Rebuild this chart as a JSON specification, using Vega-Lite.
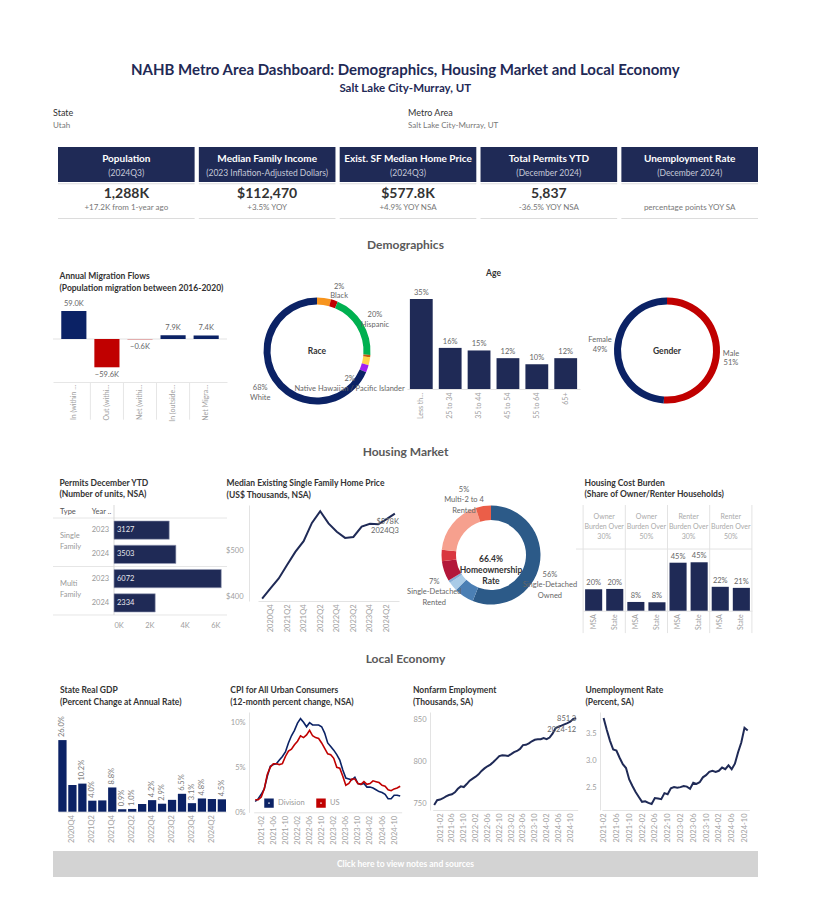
{
"$schema": "https://vega.github.io/schema/vega-lite/v6.json",
"background": "white",
"padding": {"left": 52, "top": 62, "right": 5, "bottom": 5},
"title": {"text": "NAHB Metro Area Dashboard: Demographics, Housing Market and Local Economy", "subtitle": "Salt Lake City-Murray, UT", "anchor": "middle", "fontSize": 15, "fontWeight": "bold", "color": "#1f2a56", "subtitleColor": "#1f2a56", "subtitleFontSize": 11.5, "subtitleFontWeight": "bold", "subtitlePadding": 5, "offset": 6},
"spacing": 6,
"resolve": {"scale": {"color": "independent"}},
"vconcat": [
{
 "width": 705, "height": 41,
 "data": {"values": [{"label": "State", "value": "Utah"}, {"label": "Metro Area", "value": "Salt Lake City-Murray, UT"}]},
 "encoding": {"x": {"field": "label", "type": "nominal", "sort": null, "scale": {"domain": ["State", "Metro Area"], "range": [-177.5, 532.5], "paddingInner": 0, "paddingOuter": 0}, "axis": null}},
 "layer": [
  {"mark": {"type": "text", "align": "left", "dy": -7.5, "fontSize": 9, "color": "#333333"}, "encoding": {"text": {"field": "label"}}},
  {"mark": {"type": "text", "align": "left", "dy": 5.5, "fontSize": 8, "color": "#777777"}, "encoding": {"text": {"field": "value"}}}
 ]
},
{
 "width": 705, "height": 72,
 "data": {"values": [
  {"k": "Population", "sub": "(2024Q3)", "val": "1,288K", "chg": "+17.2K from 1-year ago"},
  {"k": "Median Family Income", "sub": "(2023 Inflation-Adjusted Dollars)", "val": "$112,470", "chg": "+3.5% YOY"},
  {"k": "Exist. SF Median Home Price", "sub": "(2024Q3)", "val": "$577.8K", "chg": "+4.9% YOY NSA"},
  {"k": "Total Permits YTD", "sub": "(December 2024)", "val": "5,837", "chg": "-36.5% YOY NSA"},
  {"k": "Unemployment Rate", "sub": "(December 2024)", "val": "", "chg": "percentage points YOY SA"}
 ]},
 "encoding": {"x": {"field": "k", "type": "nominal", "sort": null, "scale": {"range": [5, 705], "paddingInner": 0.03, "paddingOuter": 0}, "axis": null}},
 "layer": [
  {"mark": {"type": "rect", "color": "#1f2a56"}, "encoding": {"y": {"datum": 0, "type": "quantitative", "scale": {"domain": [0, 72], "range": [0, 72], "nice": false}, "axis": null}, "y2": {"datum": 35}}},
  {"mark": {"type": "rect", "color": "#dcdcdc"}, "encoding": {"y": {"datum": 36.3, "type": "quantitative"}, "y2": {"datum": 37.3}}},
  {"mark": {"type": "rect", "color": "#dcdcdc"}, "encoding": {"y": {"datum": 71, "type": "quantitative"}, "y2": {"datum": 72}}},
  {"mark": {"type": "text", "color": "white", "fontSize": 10, "fontWeight": "bold"}, "encoding": {"y": {"datum": 11.5, "type": "quantitative"}, "text": {"field": "k"}}},
  {"mark": {"type": "text", "color": "#c5c8d6", "fontSize": 8.5}, "encoding": {"y": {"datum": 26, "type": "quantitative"}, "text": {"field": "sub"}}},
  {"mark": {"type": "text", "color": "#333333", "fontSize": 14, "fontWeight": "bold"}, "encoding": {"y": {"datum": 47, "type": "quantitative"}, "text": {"field": "val"}}},
  {"mark": {"type": "text", "color": "#777777", "fontSize": 8}, "encoding": {"y": {"datum": 61, "type": "quantitative"}, "text": {"field": "chg"}}}
 ]
},
{"width": 705, "height": 37, "data": {"values": [{"t": "Demographics"}]}, "mark": {"type": "text", "fontSize": 12, "fontWeight": "bold", "color": "#595959", "dy": 1.5}, "encoding": {"text": {"field": "t"}}},
{
 "hconcat": [
  {
   "width": 174, "height": 86,
   "title": {"text": ["Annual Migration Flows", "(Population migration between 2016-2020)"], "dx": 7, "offset": 4},
   "data": {"values": [{"flow": "In (within US)", "v": 59.0}, {"flow": "Out (within US)", "v": -59.6}, {"flow": "Net (within US)", "v": -0.6}, {"flow": "In (outside US)", "v": 7.9}, {"flow": "Net Migration", "v": 7.4}]},
   "layer": [
    {"transform": [{"filter": "datum.flow == 'Net Migration'"}], "mark": {"type": "rule", "color": "#e3e3e3"}, "encoding": {"y": {"datum": 0, "type": "quantitative", "scale": {"domain": [-90.6, 90.6], "nice": false}, "axis": null}}},
    {"transform": [{"filter": "datum.v >= 0"}], "mark": {"type": "bar", "color": "#0b2265"}, "encoding": {
      "x": {"field": "flow", "type": "nominal", "scale": {"domain": ["In (within US)", "Out (within US)", "Net (within US)", "In (outside US)", "Net Migration"], "paddingInner": 0.24, "paddingOuter": 0.25}, "axis": {"title": null, "labelAngle": -90, "labelAlign": "right", "labelBaseline": "middle", "ticks": false, "labelPadding": 2, "labelLimit": 38, "labelFontSize": 7, "domainColor": "#e6e6e6"}},
      "y": {"field": "v", "type": "quantitative", "axis": null}}},
    {"transform": [{"filter": "datum.v < 0"}], "mark": {"type": "bar", "color": "#c00000"}, "encoding": {"x": {"field": "flow", "type": "nominal"}, "y": {"field": "v", "type": "quantitative"}}},
    {"transform": [{"filter": "datum.flow != 'In (within US)'"}], "mark": {"type": "rule", "color": "#e6e6e6", "xOffset": -16.54}, "encoding": {"x": {"field": "flow", "type": "nominal"}, "y": {"datum": -90.6, "type": "quantitative"}, "y2": {"datum": -170}}},
    {"transform": [{"filter": "datum.v >= 0"}, {"calculate": "format(datum.v, '.1f') + 'K'", "as": "lab"}], "mark": {"type": "text", "baseline": "bottom", "dy": -3, "fontSize": 7.5, "color": "#666666"}, "encoding": {"x": {"field": "flow", "type": "nominal"}, "y": {"field": "v", "type": "quantitative"}, "text": {"field": "lab"}}},
    {"transform": [{"filter": "datum.v < 0"}, {"calculate": "format(datum.v, '.1f') + 'K'", "as": "lab"}], "mark": {"type": "text", "baseline": "top", "dy": 4, "fontSize": 7.5, "color": "#666666"}, "encoding": {"x": {"field": "flow", "type": "nominal"}, "y": {"field": "v", "type": "quantitative"}, "text": {"field": "lab"}}}
   ]
  },
  {
   "width": 144, "height": 110,
   "data": {"values": [
    {"cat": "Asian", "pct": 4.2, "ord": 1, "label": ""},
    {"cat": "Black", "pct": 2.1, "ord": 2, "label": "2%\nBlack"},
    {"cat": "Hispanic", "pct": 19.7, "ord": 3, "label": "20%\nHispanic"},
    {"cat": "American Indian", "pct": 0.7, "ord": 4, "label": ""},
    {"cat": "Two or More", "pct": 2.4, "ord": 5, "label": ""},
    {"cat": "Native Hawaiian / Pacific Islander", "pct": 2.2, "ord": 6, "label": "2%\nNative Hawaiian / Pacific Islander"},
    {"cat": "White", "pct": 68.1, "ord": 7, "label": "68%\nWhite"}
   ]},
   "layer": [
    {"mark": {"type": "arc", "outerRadius": 53.5, "innerRadius": 46.5}, "encoding": {"theta": {"field": "pct", "type": "quantitative", "stack": true}, "order": {"field": "ord", "type": "quantitative"}, "color": {"field": "cat", "type": "nominal", "scale": {"domain": ["Asian", "Black", "Hispanic", "American Indian", "Two or More", "Native Hawaiian / Pacific Islander", "White"], "range": ["#f7941d", "#c00000", "#00b050", "#c55a11", "#ffd54a", "#a020f0", "#0b2265"]}, "legend": null}}},
    {"transform": [{"calculate": "datum.ord == 6 ? '' : datum.label", "as": "t"}], "mark": {"type": "text", "radius": 68, "fontSize": 7.5, "color": "#666666", "lineBreak": "\n"}, "encoding": {"theta": {"field": "pct", "type": "quantitative", "stack": true}, "order": {"field": "ord", "type": "quantitative"}, "detail": {"field": "cat", "type": "nominal"}, "text": {"field": "t"}}},
    {"transform": [{"calculate": "datum.ord == 6 ? datum.label : ''", "as": "t"}], "mark": {"type": "text", "radius": 43, "dx": -8, "dy": 14, "fontSize": 7.5, "color": "#666666", "lineBreak": "\n"}, "encoding": {"theta": {"field": "pct", "type": "quantitative", "stack": true}, "order": {"field": "ord", "type": "quantitative"}, "detail": {"field": "cat", "type": "nominal"}, "text": {"field": "t"}}},
    {"data": {"values": [{"t": "Race"}]}, "mark": {"type": "text", "fontSize": 8.5, "fontWeight": "bold", "color": "#333333"}, "encoding": {"text": {"field": "t"}}}
   ]
  },
  {
   "width": 173, "height": 93,
   "title": {"text": "Age", "anchor": "middle", "offset": 12},
   "data": {"values": [{"age": "Less than 25", "p": 35}, {"age": "25 to 34", "p": 16}, {"age": "35 to 44", "p": 15}, {"age": "45 to 54", "p": 12}, {"age": "55 to 64", "p": 9.6}, {"age": "65+", "p": 12}]},
   "layer": [
    {"mark": {"type": "bar", "color": "#1f2a56"}, "encoding": {
      "x": {"field": "age", "type": "nominal", "sort": null, "scale": {"paddingInner": 0.21, "paddingOuter": 0.1}, "axis": {"title": null, "labelAngle": -90, "labelAlign": "right", "labelBaseline": "middle", "ticks": false, "labelPadding": 3, "labelLimit": 30, "labelFontSize": 7}},
      "y": {"field": "p", "type": "quantitative", "scale": {"domain": [0, 36.2], "nice": false}, "axis": null}}},
    {"transform": [{"calculate": "format(datum.p, '.0f') + '%'", "as": "lab"}], "mark": {"type": "text", "baseline": "bottom", "dy": -2, "fontSize": 7.5, "color": "#666666"}, "encoding": {"x": {"field": "age", "type": "nominal", "sort": null}, "y": {"field": "p", "type": "quantitative"}, "text": {"field": "lab"}}}
   ]
  },
  {
   "width": 138, "height": 109,
   "data": {"values": [{"g": "Male", "p": 51, "ord": 1, "label": "Male\n51%"}, {"g": "Female", "p": 49, "ord": 2, "label": "Female\n49%"}]},
   "layer": [
    {"mark": {"type": "arc", "outerRadius": 53, "innerRadius": 46}, "encoding": {"theta": {"field": "p", "type": "quantitative", "stack": true}, "order": {"field": "ord", "type": "quantitative"}, "color": {"field": "g", "type": "nominal", "scale": {"domain": ["Male", "Female"], "range": ["#c00000", "#0b2265"]}, "legend": null}}},
    {"transform": [{"calculate": "datum.ord == 1 ? datum.label : ''", "as": "t"}], "mark": {"type": "text", "radius": 67, "dy": 1, "dx": -3, "fontSize": 7.5, "color": "#666666", "lineBreak": "\n"}, "encoding": {"theta": {"field": "p", "type": "quantitative", "stack": true}, "order": {"field": "ord", "type": "quantitative"}, "detail": {"field": "g", "type": "nominal"}, "text": {"field": "t"}}},
    {"transform": [{"calculate": "datum.ord == 2 ? datum.label : ''", "as": "t"}], "mark": {"type": "text", "radius": 67, "dy": -8, "fontSize": 7.5, "color": "#666666", "lineBreak": "\n"}, "encoding": {"theta": {"field": "p", "type": "quantitative", "stack": true}, "order": {"field": "ord", "type": "quantitative"}, "detail": {"field": "g", "type": "nominal"}, "text": {"field": "t"}}},
    {"data": {"values": [{"t": "Gender"}]}, "mark": {"type": "text", "fontSize": 8.5, "fontWeight": "bold", "color": "#333333"}, "encoding": {"text": {"field": "t"}}}
   ]
  }
 ],
 "spacing": 18, "bounds": "flush",
 "resolve": {"scale": {"color": "independent"}}
},
{"width": 705, "height": 44, "data": {"values": [{"t": "Housing Market"}]}, "mark": {"type": "text", "fontSize": 12, "fontWeight": "bold", "color": "#595959", "dy": 2}, "encoding": {"text": {"field": "t"}}},
{
 "hconcat": [
  {
   "width": 174, "height": 110,
   "title": {"text": ["Permits December YTD", "(Number of units, NSA)"], "dx": 7, "offset": 6},
   "data": {"values": [
    {"type": "Single Family", "yr": "2023", "v": 3127, "key": "SF2023"},
    {"type": "Single Family", "yr": "2024", "v": 3503, "key": "SF2024"},
    {"type": "Multi Family", "yr": "2023", "v": 6072, "key": "MF2023"},
    {"type": "Multi Family", "yr": "2024", "v": 2334, "key": "MF2024"}
   ]},
   "layer": [
    {"transform": [{"filter": "datum.yr == '2023'"}], "mark": {"type": "rule", "color": "#e6e6e6", "yOffset": -12.1}, "encoding": {"y": {"field": "key", "type": "nominal", "sort": null, "scale": {"domain": ["SF2023", "SF2024", "MF2023", "MF2024"], "range": [13, 110], "paddingInner": 0.246, "paddingOuter": 0.123}, "axis": null}}},
    {"transform": [{"filter": "datum.key == 'MF2024'"}], "mark": {"type": "rule", "color": "#e6e6e6", "yOffset": 12.1}, "encoding": {"y": {"field": "key", "type": "nominal", "sort": null, "axis": null}}},
    {"transform": [{"filter": "datum.key == 'SF2023'"}], "mark": {"type": "rule", "color": "#d9d9d9"}, "encoding": {"x": {"datum": 0, "type": "quantitative"}}},
    {"mark": {"type": "bar", "color": "#1f2a56", "stroke": "#9aa0b8", "strokeWidth": 0.6}, "encoding": {
      "y": {"field": "key", "type": "nominal", "sort": null, "axis": null},
      "x": {"field": "v", "type": "quantitative", "scale": {"domain": [0, 6000], "range": [61, 167], "nice": false}, "axis": {"title": null, "values": [0, 2000, 4000, 6000], "labelExpr": "datum.value / 1000 + 'K'", "domain": false, "ticks": false, "labelPadding": 6}}}},
    {"mark": {"type": "text", "align": "left", "dx": 3, "color": "#e8e8ee", "fontSize": 7.5}, "encoding": {"y": {"field": "key", "type": "nominal", "sort": null, "axis": null}, "x": {"datum": 0, "type": "quantitative"}, "text": {"field": "v", "type": "quantitative", "format": "d"}}},
    {"mark": {"type": "text", "align": "left", "color": "#999999", "fontSize": 7.5}, "encoding": {"y": {"field": "key", "type": "nominal", "sort": null, "axis": null}, "x": {"datum": -1262, "type": "quantitative"}, "text": {"field": "yr"}}},
    {"transform": [{"filter": "datum.yr == '2023'"}], "mark": {"type": "text", "align": "left", "color": "#999999", "fontSize": 7.5, "lineBreak": " ", "lineHeight": 11, "dy": 5.5}, "encoding": {"y": {"field": "key", "type": "nominal", "sort": null, "axis": null}, "x": {"datum": -3057, "type": "quantitative"}, "text": {"field": "type"}}},
    {"transform": [{"filter": "datum.key == 'SF2023'"}], "mark": {"type": "text", "align": "left", "dy": -18, "color": "#555555", "fontSize": 7.5}, "encoding": {"y": {"field": "key", "type": "nominal", "sort": null, "axis": null}, "x": {"datum": -3057, "type": "quantitative"}, "text": {"value": "Type"}}},
    {"transform": [{"filter": "datum.key == 'SF2023'"}], "mark": {"type": "text", "align": "left", "dy": -18, "color": "#555555", "fontSize": 7.5}, "encoding": {"y": {"field": "key", "type": "nominal", "sort": null, "axis": null}, "x": {"datum": -1262, "type": "quantitative"}, "text": {"value": "Year .."}}}
   ]
  },
  {
   "width": 157, "height": 96,
   "title": {"text": ["Median Existing Single Family Home Price", "(US$ Thousands, NSA)"], "offset": 6, "dx": 1},
   "data": {"values": [
    {"q": "2020Q3", "v": 396}, {"q": "2020Q4", "v": 418}, {"q": "2021Q1", "v": 439}, {"q": "2021Q2", "v": 468},
    {"q": "2021Q3", "v": 496}, {"q": "2021Q4", "v": 519}, {"q": "2022Q1", "v": 558}, {"q": "2022Q2", "v": 583},
    {"q": "2022Q3", "v": 557}, {"q": "2022Q4", "v": 539}, {"q": "2023Q1", "v": 526}, {"q": "2023Q2", "v": 528},
    {"q": "2023Q3", "v": 550}, {"q": "2023Q4", "v": 556}, {"q": "2024Q1", "v": 555}, {"q": "2024Q2", "v": 566},
    {"q": "2024Q3", "v": 577.8}
   ]},
   "layer": [
    {"mark": {"type": "line", "color": "#1f2a56", "strokeWidth": 2}, "encoding": {
      "x": {"field": "q", "type": "ordinal", "sort": null, "scale": {"type": "point", "range": [9, 150]}, "axis": {"title": null, "labelAngle": -90, "labelAlign": "right", "labelBaseline": "middle", "values": ["2020Q4", "2021Q2", "2021Q4", "2022Q2", "2022Q4", "2023Q2", "2023Q4", "2024Q2"], "ticks": false, "labelPadding": 3}},
      "y": {"field": "v", "type": "quantitative", "scale": {"domain": [390.8, 596.4], "nice": false, "zero": false}, "axis": {"title": null, "values": [400, 500], "labelExpr": "'$' + datum.value", "ticks": false, "labelPadding": 6}}}},
    {"transform": [{"filter": "datum.q == '2024Q3'"}, {"calculate": "'$' + format(datum.v, '.0f') + 'K\\n' + datum.q", "as": "lab"}], "mark": {"type": "text", "align": "right", "baseline": "top", "dx": 4, "dy": 4, "fontSize": 7.5, "color": "#666666", "lineBreak": "\n"}, "encoding": {"x": {"field": "q", "type": "ordinal", "sort": null}, "y": {"field": "v", "type": "quantitative"}, "text": {"field": "lab"}}}
   ]
  },
  {
   "width": 126, "height": 100,
   "data": {"values": [
    {"cat": "Single-Detached Owned", "p": 56.0, "ord": 1, "label": "56%\nSingle-Detached\nOwned"},
    {"cat": "Single-Attached Owned", "p": 6.5, "ord": 2, "label": ""},
    {"cat": "Multi-2 to 4 Owned", "p": 3.0, "ord": 3, "label": ""},
    {"cat": "Multi-5+ Owned", "p": 0.9, "ord": 4, "label": ""},
    {"cat": "Single-Detached Rented", "p": 6.6, "ord": 5, "label": "7%\nSingle-Detached\nRented"},
    {"cat": "Single-Attached Rented", "p": 3.7, "ord": 6, "label": ""},
    {"cat": "Multi-5+ Rented", "p": 18.3, "ord": 7, "label": ""},
    {"cat": "Multi-2 to 4 Rented", "p": 5.0, "ord": 8, "label": "5%\nMulti-2 to 4\nRented"}
   ]},
   "layer": [
    {"mark": {"type": "arc", "outerRadius": 49.5, "innerRadius": 35}, "encoding": {"theta": {"field": "p", "type": "quantitative", "stack": true}, "order": {"field": "ord", "type": "quantitative"}, "color": {"field": "cat", "type": "nominal", "scale": {"domain": ["Single-Detached Owned", "Single-Attached Owned", "Multi-2 to 4 Owned", "Multi-5+ Owned", "Single-Detached Rented", "Single-Attached Rented", "Multi-5+ Rented", "Multi-2 to 4 Rented"], "range": ["#2c5a88", "#4b7fb4", "#a9cbe7", "#86aed6", "#b3173a", "#d9363f", "#f6a08e", "#eb5e48"]}, "legend": null}}},
    {"transform": [{"calculate": "datum.ord == 1 ? datum.label : ''", "as": "t"}], "mark": {"type": "text", "radius": 60, "dy": 8.5, "fontSize": 7.5, "color": "#666666", "lineBreak": "\n", "lineHeight": 10.5}, "encoding": {"theta": {"field": "p", "type": "quantitative", "stack": true}, "order": {"field": "ord", "type": "quantitative"}, "detail": {"field": "cat", "type": "nominal"}, "text": {"field": "t"}}},
    {"transform": [{"calculate": "datum.ord == 5 ? datum.label : ''", "as": "t"}], "mark": {"type": "text", "radius": 60, "dy": 7, "fontSize": 7.5, "color": "#666666", "lineBreak": "\n", "lineHeight": 10.5}, "encoding": {"theta": {"field": "p", "type": "quantitative", "stack": true}, "order": {"field": "ord", "type": "quantitative"}, "detail": {"field": "cat", "type": "nominal"}, "text": {"field": "t"}}},
    {"transform": [{"calculate": "datum.ord == 8 ? datum.label : ''", "as": "t"}], "mark": {"type": "text", "radius": 60, "dx": -17.6, "dy": -6, "fontSize": 7.5, "color": "#666666", "lineBreak": "\n", "lineHeight": 10.5}, "encoding": {"theta": {"field": "p", "type": "quantitative", "stack": true}, "order": {"field": "ord", "type": "quantitative"}, "detail": {"field": "cat", "type": "nominal"}, "text": {"field": "t"}}},
    {"data": {"values": [{"t": "66.4%\nHomeownership\nRate"}]}, "mark": {"type": "text", "fontSize": 8.5, "fontWeight": "bold", "color": "#333333", "lineBreak": "\n", "lineHeight": 11, "dy": 4}, "encoding": {"text": {"field": "t"}}}
   ]
  },
  {
   "width": 176, "height": 105.7,
   "title": {"text": ["Housing Cost Burden", "(Share of Owner/Renter Households)"], "dx": 9, "offset": 6},
   "data": {"values": [
    {"k": "O30|MSA", "v": 20.1}, {"k": "O30|State", "v": 20.4}, {"k": "O50|MSA", "v": 8.2}, {"k": "O50|State", "v": 7.9},
    {"k": "R30|MSA", "v": 45.0}, {"k": "R30|State", "v": 45.4}, {"k": "R50|MSA", "v": 22.4}, {"k": "R50|State", "v": 21.4}
   ]},
   "layer": [
    {"mark": {"type": "bar", "color": "#1f2a56"}, "encoding": {
      "x": {"field": "k", "type": "nominal", "sort": null, "scale": {"domain": ["O30|MSA", "O30|State", "O50|MSA", "O50|State", "R30|MSA", "R30|State", "R50|MSA", "R50|State"], "range": [7, 176], "paddingInner": 0.19, "paddingOuter": 0.1}, "axis": {"title": null, "labelExpr": "split(datum.label, '|')[1]", "labelAngle": -90, "labelAlign": "right", "labelBaseline": "middle", "ticks": false, "labelPadding": 3, "labelFontSize": 7}},
      "y": {"field": "v", "type": "quantitative", "scale": {"domain": [0, 99.1], "nice": false}, "axis": null}}},
    {"transform": [{"calculate": "format(datum.v, '.0f') + '%'", "as": "lab"}], "mark": {"type": "text", "baseline": "bottom", "dy": -2, "fontSize": 7.5, "color": "#666666"}, "encoding": {"x": {"field": "k", "type": "nominal", "sort": null}, "y": {"field": "v", "type": "quantitative"}, "text": {"field": "lab"}}},
    {"transform": [{"filter": "indexof(datum.k, 'MSA') > 0"}], "mark": {"type": "rule", "color": "#e3e3e3", "xOffset": -10.55}, "encoding": {"x": {"field": "k", "type": "nominal", "sort": null}, "y": {"datum": 99.1, "type": "quantitative"}, "y2": {"datum": -21}}},
    {"transform": [{"filter": "datum.k == 'R50|State'"}], "mark": {"type": "rule", "color": "#e3e3e3", "xOffset": 10.55}, "encoding": {"x": {"field": "k", "type": "nominal", "sort": null}, "y": {"datum": 99.1, "type": "quantitative"}, "y2": {"datum": -21}}},
    {"transform": [{"filter": "datum.k == 'O30|MSA'"}], "mark": {"type": "rule", "color": "#e3e3e3"}, "encoding": {"y": {"datum": 57.8, "type": "quantitative"}}},
    {"transform": [{"filter": "indexof(datum.k, 'MSA') > 0"}, {"calculate": "(indexof(datum.k, 'O') == 0 ? 'Owner' : 'Renter') + '\\nBurden Over\\n' + (indexof(datum.k, '30') > 0 ? '30%' : '50%')", "as": "h"}], "mark": {"type": "text", "baseline": "top", "dy": 8, "dx": 10.55, "fontSize": 7, "color": "#aaaaaa", "lineBreak": "\n", "lineHeight": 9.8}, "encoding": {"x": {"field": "k", "type": "nominal", "sort": null}, "y": {"datum": 99.1, "type": "quantitative"}, "text": {"field": "h"}}}
   ]
  }
 ],
 "spacing": 22, "bounds": "flush",
 "resolve": {"scale": {"color": "independent"}}
},
{"width": 705, "height": 40, "data": {"values": [{"t": "Local Economy"}]}, "mark": {"type": "text", "fontSize": 12, "fontWeight": "bold", "color": "#595959", "dy": -1}, "encoding": {"text": {"field": "t"}}},
{
 "hconcat": [
  {
   "width": 184, "height": 99.7,
   "title": {"text": ["State Real GDP", "(Percent Change at Annual Rate)"], "dx": 7, "offset": 6},
   "data": {"values": [
    {"q": "2020Q3", "v": 26.0, "lab": "26.0%"}, {"q": "2020Q4", "v": 9.7, "lab": ""}, {"q": "2021Q1", "v": 10.2, "lab": "10.2%"},
    {"q": "2021Q2", "v": 4.0, "lab": "4.0%"}, {"q": "2021Q3", "v": 4.1, "lab": ""}, {"q": "2021Q4", "v": 8.8, "lab": "8.8%"},
    {"q": "2022Q1", "v": 0.9, "lab": "0.9%"}, {"q": "2022Q2", "v": 1.0, "lab": "1.0%"}, {"q": "2022Q3", "v": 2.8, "lab": ""},
    {"q": "2022Q4", "v": 4.2, "lab": "4.2%"}, {"q": "2023Q1", "v": 2.9, "lab": "2.9%"}, {"q": "2023Q2", "v": 4.3, "lab": ""},
    {"q": "2023Q3", "v": 6.5, "lab": "6.5%"}, {"q": "2023Q4", "v": 3.1, "lab": "3.1%"}, {"q": "2024Q1", "v": 4.8, "lab": "4.8%"},
    {"q": "2024Q2", "v": 4.6, "lab": ""}, {"q": "2024Q3", "v": 4.5, "lab": "4.5%"}
   ]},
   "layer": [
    {"mark": {"type": "bar", "color": "#0b2265"}, "encoding": {
      "x": {"field": "q", "type": "ordinal", "sort": null, "scale": {"range": [5.3, 173], "paddingInner": 0.17, "paddingOuter": 0}, "axis": {"title": null, "labelAngle": -90, "labelAlign": "right", "labelBaseline": "middle", "values": ["2020Q4", "2021Q2", "2021Q4", "2022Q2", "2022Q4", "2023Q2", "2023Q4", "2024Q2"], "ticks": false, "labelPadding": 3}},
      "y": {"field": "v", "type": "quantitative", "scale": {"domain": [0, 36.2], "nice": false}, "axis": null}}},
    {"mark": {"type": "text", "angle": 270, "align": "left", "baseline": "middle", "dx": 3, "fontSize": 7.5, "color": "#777777"}, "encoding": {"x": {"field": "q", "type": "ordinal", "sort": null}, "y": {"field": "v", "type": "quantitative"}, "text": {"field": "lab"}}}
   ]
  },
  {
   "width": 169, "height": 100.3,
   "title": {"text": ["CPI for All Urban Consumers", "(12-month percent change, NSA)"], "offset": 6},
   "data": {"values": [
    {"m": "2020-12", "Division": 1.2, "US": 1.4}, {"m": "2021-01", "Division": 1.5, "US": 1.4}, {"m": "2021-02", "Division": 2.0, "US": 1.7},
    {"m": "2021-03", "Division": 2.6, "US": 2.6}, {"m": "2021-04", "Division": 4.0, "US": 4.2}, {"m": "2021-05", "Division": 5.1, "US": 5.0},
    {"m": "2021-06", "Division": 5.3, "US": 5.4}, {"m": "2021-07", "Division": 5.4, "US": 5.4}, {"m": "2021-08", "Division": 5.8, "US": 5.3},
    {"m": "2021-09", "Division": 6.2, "US": 5.4}, {"m": "2021-10", "Division": 6.7, "US": 6.2}, {"m": "2021-11", "Division": 7.7, "US": 6.8},
    {"m": "2021-12", "Division": 8.5, "US": 7.0}, {"m": "2022-01", "Division": 9.1, "US": 7.5}, {"m": "2022-02", "Division": 9.9, "US": 7.9},
    {"m": "2022-03", "Division": 10.4, "US": 8.5}, {"m": "2022-04", "Division": 10.0, "US": 8.3}, {"m": "2022-05", "Division": 9.5, "US": 8.6},
    {"m": "2022-06", "Division": 9.95, "US": 9.1}, {"m": "2022-07", "Division": 9.7, "US": 8.5}, {"m": "2022-08", "Division": 9.7, "US": 8.3},
    {"m": "2022-09", "Division": 9.7, "US": 8.2}, {"m": "2022-10", "Division": 9.5, "US": 7.7}, {"m": "2022-11", "Division": 8.8, "US": 7.1},
    {"m": "2022-12", "Division": 7.7, "US": 6.5}, {"m": "2023-01", "Division": 7.3, "US": 6.4}, {"m": "2023-02", "Division": 6.9, "US": 6.0},
    {"m": "2023-03", "Division": 6.4, "US": 5.0}, {"m": "2023-04", "Division": 5.8, "US": 4.9}, {"m": "2023-05", "Division": 4.7, "US": 4.0},
    {"m": "2023-06", "Division": 3.8, "US": 3.0}, {"m": "2023-07", "Division": 3.7, "US": 3.2}, {"m": "2023-08", "Division": 3.6, "US": 3.7},
    {"m": "2023-09", "Division": 3.9, "US": 3.7}, {"m": "2023-10", "Division": 3.2, "US": 3.2}, {"m": "2023-11", "Division": 3.1, "US": 3.1},
    {"m": "2023-12", "Division": 3.2, "US": 3.4}, {"m": "2024-01", "Division": 2.8, "US": 3.1}, {"m": "2024-02", "Division": 2.8, "US": 3.2},
    {"m": "2024-03", "Division": 2.7, "US": 3.5}, {"m": "2024-04", "Division": 2.5, "US": 3.4}, {"m": "2024-05", "Division": 2.3, "US": 3.3},
    {"m": "2024-06", "Division": 2.2, "US": 3.0}, {"m": "2024-07", "Division": 2.0, "US": 2.9}, {"m": "2024-08", "Division": 1.5, "US": 2.5},
    {"m": "2024-09", "Division": 1.5, "US": 2.4}, {"m": "2024-10", "Division": 1.9, "US": 2.6}, {"m": "2024-11", "Division": 1.9, "US": 2.7},
    {"m": "2024-12", "Division": 1.8, "US": 2.9}
   ]},
   "transform": [{"fold": ["Division", "US"], "as": ["series", "v"]}],
   "mark": {"type": "line", "strokeWidth": 1.6},
   "encoding": {
    "x": {"field": "m", "type": "ordinal", "sort": null, "scale": {"type": "point", "range": [4.7, 152.7]}, "axis": {"title": null, "labelAngle": -90, "labelAlign": "right", "labelBaseline": "middle", "values": ["2021-02", "2021-06", "2021-10", "2022-02", "2022-06", "2022-10", "2023-02", "2023-06", "2023-10", "2024-02", "2024-06", "2024-10"], "ticks": false, "labelPadding": 3}},
    "y": {"field": "v", "type": "quantitative", "scale": {"domain": [0, 11.14], "nice": false}, "axis": {"title": null, "values": [0, 5, 10], "labelExpr": "datum.value + '%'", "ticks": false, "labelPadding": 4}},
    "color": {"field": "series", "type": "nominal", "scale": {"domain": ["Division", "US"], "range": ["#0b2265", "#c00000"]}, "legend": {"title": null, "orient": "none", "legendX": 15, "legendY": 86, "direction": "horizontal", "symbolType": "square", "symbolSize": 30, "symbolStrokeWidth": 4, "labelFontSize": 7.5, "labelColor": "#999999", "columnPadding": 5}}
   }
  },
  {
   "width": 158, "height": 98,
   "title": {"text": ["Nonfarm Employment", "(Thousands, SA)"], "offset": 6},
   "data": {"values": [
    {"m": "2020-12", "v": 748.8}, {"m": "2021-01", "v": 754.5}, {"m": "2021-02", "v": 755.2}, {"m": "2021-03", "v": 756.8}, {"m": "2021-04", "v": 759.0},
    {"m": "2021-05", "v": 760.6}, {"m": "2021-06", "v": 761.4}, {"m": "2021-07", "v": 763.8}, {"m": "2021-08", "v": 768.0}, {"m": "2021-09", "v": 770.8},
    {"m": "2021-10", "v": 770.0}, {"m": "2021-11", "v": 773.5}, {"m": "2021-12", "v": 777.5}, {"m": "2022-01", "v": 780.0}, {"m": "2022-02", "v": 782.2},
    {"m": "2022-03", "v": 785.0}, {"m": "2022-04", "v": 789.0}, {"m": "2022-05", "v": 792.0}, {"m": "2022-06", "v": 794.5}, {"m": "2022-07", "v": 796.5},
    {"m": "2022-08", "v": 799.5}, {"m": "2022-09", "v": 803.0}, {"m": "2022-10", "v": 806.5}, {"m": "2022-11", "v": 807.6}, {"m": "2022-12", "v": 807.2},
    {"m": "2023-01", "v": 806.8}, {"m": "2023-02", "v": 808.8}, {"m": "2023-03", "v": 811.2}, {"m": "2023-04", "v": 812.6}, {"m": "2023-05", "v": 815.0},
    {"m": "2023-06", "v": 819.5}, {"m": "2023-07", "v": 819.8}, {"m": "2023-08", "v": 821.5}, {"m": "2023-09", "v": 824.0}, {"m": "2023-10", "v": 825.8},
    {"m": "2023-11", "v": 826.3}, {"m": "2023-12", "v": 826.4}, {"m": "2024-01", "v": 827.8}, {"m": "2024-02", "v": 826.5}, {"m": "2024-03", "v": 828.5},
    {"m": "2024-04", "v": 833.0}, {"m": "2024-05", "v": 839.5}, {"m": "2024-06", "v": 841.2}, {"m": "2024-07", "v": 842.5}, {"m": "2024-08", "v": 844.0},
    {"m": "2024-09", "v": 845.5}, {"m": "2024-10", "v": 847.2}, {"m": "2024-11", "v": 850.5}, {"m": "2024-12", "v": 851.3}
   ]},
   "layer": [
    {"mark": {"type": "line", "color": "#1f2a56", "strokeWidth": 2}, "encoding": {
      "x": {"field": "m", "type": "ordinal", "sort": null, "scale": {"type": "point", "range": [2.7, 147.7]}, "axis": {"title": null, "labelAngle": -90, "labelAlign": "right", "labelBaseline": "middle", "values": ["2021-02", "2021-06", "2021-10", "2022-02", "2022-06", "2022-10", "2023-02", "2023-06", "2023-10", "2024-02", "2024-06", "2024-10"], "ticks": false, "labelPadding": 3}},
      "y": {"field": "v", "type": "quantitative", "scale": {"domain": [742.9, 858.6], "nice": false, "zero": false}, "axis": {"title": null, "values": [750, 800, 850], "ticks": false, "labelPadding": 4}}}},
    {"transform": [{"filter": "datum.m == '2024-12'"}, {"calculate": "format(datum.v, '.1f') + '\\n' + datum.m", "as": "lab"}], "mark": {"type": "text", "align": "right", "baseline": "top", "dy": -3, "fontSize": 7.5, "color": "#666666", "lineBreak": "\n", "lineHeight": 11}, "encoding": {"x": {"field": "m", "type": "ordinal", "sort": null}, "y": {"field": "v", "type": "quantitative"}, "text": {"field": "lab"}}}
   ]
  },
  {
   "width": 158, "height": 98,
   "title": {"text": ["Unemployment Rate", "(Percent, SA)"], "offset": 6},
   "data": {"values": [
    {"m": "2021-02", "v": 3.78}, {"m": "2021-03", "v": 3.56}, {"m": "2021-04", "v": 3.36}, {"m": "2021-05", "v": 3.20}, {"m": "2021-06", "v": 3.18},
    {"m": "2021-07", "v": 3.05}, {"m": "2021-08", "v": 2.93}, {"m": "2021-09", "v": 2.86}, {"m": "2021-10", "v": 2.65}, {"m": "2021-11", "v": 2.53},
    {"m": "2021-12", "v": 2.42}, {"m": "2022-01", "v": 2.33}, {"m": "2022-02", "v": 2.24}, {"m": "2022-03", "v": 2.25}, {"m": "2022-04", "v": 2.22},
    {"m": "2022-05", "v": 2.20}, {"m": "2022-06", "v": 2.31}, {"m": "2022-07", "v": 2.30}, {"m": "2022-08", "v": 2.29}, {"m": "2022-09", "v": 2.40},
    {"m": "2022-10", "v": 2.38}, {"m": "2022-11", "v": 2.49}, {"m": "2022-12", "v": 2.51}, {"m": "2023-01", "v": 2.50}, {"m": "2023-02", "v": 2.51},
    {"m": "2023-03", "v": 2.53}, {"m": "2023-04", "v": 2.52}, {"m": "2023-05", "v": 2.48}, {"m": "2023-06", "v": 2.59}, {"m": "2023-07", "v": 2.57},
    {"m": "2023-08", "v": 2.60}, {"m": "2023-09", "v": 2.69}, {"m": "2023-10", "v": 2.73}, {"m": "2023-11", "v": 2.79}, {"m": "2023-12", "v": 2.81},
    {"m": "2024-01", "v": 2.79}, {"m": "2024-02", "v": 2.81}, {"m": "2024-03", "v": 2.87}, {"m": "2024-04", "v": 2.84}, {"m": "2024-05", "v": 2.91},
    {"m": "2024-06", "v": 2.84}, {"m": "2024-07", "v": 2.94}, {"m": "2024-08", "v": 3.15}, {"m": "2024-09", "v": 3.33}, {"m": "2024-10", "v": 3.60},
    {"m": "2024-11", "v": 3.55}
   ]},
   "mark": {"type": "line", "color": "#1f2a56", "strokeWidth": 2},
   "encoding": {
    "x": {"field": "m", "type": "ordinal", "sort": null, "scale": {"type": "point", "range": [2, 149.3]}, "axis": {"title": null, "labelAngle": -90, "labelAlign": "right", "labelBaseline": "middle", "values": ["2021-02", "2021-06", "2021-10", "2022-02", "2022-06", "2022-10", "2023-02", "2023-06", "2023-10", "2024-02", "2024-06", "2024-10"], "ticks": false, "labelPadding": 3}},
    "y": {"field": "v", "type": "quantitative", "scale": {"domain": [2.09, 3.89], "nice": false, "zero": false}, "axis": {"title": null, "values": [2.5, 3.0, 3.5], "format": ".1f", "ticks": false, "labelPadding": 4}}
   }
  }
 ],
 "spacing": 12, "bounds": "flush",
 "resolve": {"scale": {"color": "independent"}}
},
{
 "width": 705, "height": 26,
 "data": {"values": [{"t": "Click here to view notes and sources"}]},
 "layer": [
  {"mark": {"type": "rect", "color": "#d3d3d3"}, "encoding": {"x": {"datum": 0, "type": "quantitative", "scale": {"domain": [0, 1], "nice": false}, "axis": null}, "x2": {"datum": 1}, "y": {"datum": 0, "type": "quantitative", "scale": {"domain": [0, 1], "nice": false}, "axis": null}, "y2": {"datum": 1}}},
  {"mark": {"type": "text", "color": "white", "fontSize": 8.5, "fontWeight": "bold"}, "encoding": {"text": {"field": "t"}}}
 ]
}
],
"config": {
 "font": "Lato",
 "view": {"stroke": null},
 "axis": {"labelFont": "Lato", "labelFontSize": 7.5, "labelColor": "#a0a0a0", "domainColor": "#e3e3e3", "tickColor": "#e3e3e3", "grid": false},
 "title": {"font": "Lato", "fontSize": 8.5, "fontWeight": "bold", "color": "#333333", "anchor": "start", "lineHeight": 11.5},
 "legend": {"labelFont": "Lato"}
}
}
